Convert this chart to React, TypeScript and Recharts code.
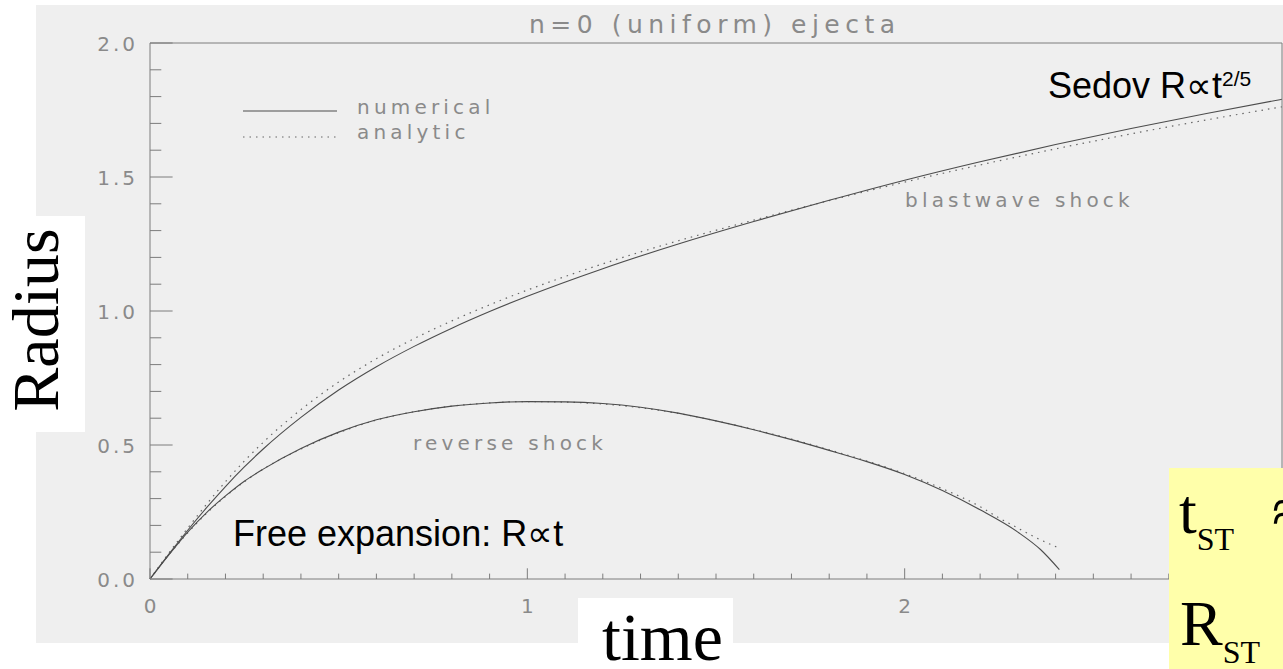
import React from "react";
import { LineChart, Line, XAxis, YAxis } from "recharts";

// Shock radius vs time for uniform (n=0) ejecta
const blastTime = [0, 0.05, 0.1, 0.15, 0.2, 0.25, 0.3, 0.4, 0.5, 0.6, 0.7, 0.8, 0.9, 1.0, 1.2, 1.4, 1.6, 1.8, 2.0, 2.2, 2.4, 2.6, 2.8, 3.0];
const blastNumerical = [0, 0.093, 0.182, 0.266, 0.345, 0.418, 0.485, 0.603, 0.705, 0.792, 0.868, 0.936, 0.998, 1.055, 1.158, 1.25, 1.334, 1.413, 1.488, 1.557, 1.621, 1.681, 1.737, 1.79];
const blastAnalytic = [0, 0.097, 0.19, 0.279, 0.363, 0.44, 0.51, 0.632, 0.735, 0.822, 0.897, 0.963, 1.023, 1.078, 1.176, 1.262, 1.339, 1.412, 1.481, 1.545, 1.605, 1.661, 1.713, 1.762];

const reverseTime = [0, 0.05, 0.1, 0.15, 0.2, 0.25, 0.3, 0.4, 0.5, 0.6, 0.7, 0.8, 0.9, 1.0, 1.1, 1.2, 1.3, 1.4, 1.5, 1.6, 1.7, 1.8, 1.9, 2.0, 2.1, 2.2, 2.3, 2.36, 2.41];
const reverseNumerical = [0, 0.09, 0.175, 0.248, 0.31, 0.365, 0.41, 0.487, 0.548, 0.594, 0.624, 0.645, 0.657, 0.662, 0.661, 0.655, 0.641, 0.619, 0.59, 0.557, 0.52, 0.48, 0.438, 0.39, 0.33, 0.258, 0.175, 0.11, 0.035];

const reverseAnalyticTime = [0, 0.05, 0.1, 0.15, 0.2, 0.25, 0.3, 0.4, 0.5, 0.6, 0.7, 0.8, 0.9, 1.0, 1.1, 1.2, 1.3, 1.4, 1.5, 1.6, 1.7, 1.8, 1.9, 2.0, 2.1, 2.2, 2.25, 2.3, 2.35, 2.41];
const reverseAnalytic = [0, 0.09, 0.172, 0.245, 0.308, 0.363, 0.41, 0.485, 0.546, 0.593, 0.624, 0.645, 0.657, 0.662, 0.66, 0.653, 0.639, 0.618, 0.59, 0.558, 0.522, 0.482, 0.44, 0.393, 0.337, 0.27, 0.228, 0.19, 0.153, 0.115];

const xMajorTicks = [0, 1, 2, 3];
// the label at t=3 sits under the note box, so only these are drawn
const xTickLabels = ["0", "1", "2"];
const yMajorTicks = [0, 0.5, 1.0, 1.5, 2.0];
const yTickLabels = ["0.0", "0.5", "1.0", "1.5", "2.0"];
// minor ticks every 0.1 on both axes
const xMinorTicks = Array.from({ length: 31 }, (_, i) => i / 10);
const yMinorTicks = Array.from({ length: 21 }, (_, i) => i / 10);

const W = 1283;
const H = 669;
const PANEL = "#efefef";
const AXIS = "#7c7c7c";
const INK = "#8a8a8a";
const CURVE = "#4c4c4c";
const IDL_FONT = "'DejaVu Sans', sans-serif";
const SERIF = "'Liberation Serif', 'Times New Roman', serif";
const SANS = "'Liberation Sans', Arial, sans-serif";

const toPoints = (ts: number[], rs: number[]) => ts.map((t, i) => ({ t, r: rs[i] }));

const majorIndex = (v: number, majors: number[]) =>
  majors.findIndex((m) => Math.abs(m - v) < 1e-6);

const labelStyle = {
  fontFamily: IDL_FONT,
  fontSize: 20,
  letterSpacing: 3,
  fill: INK,
} as const;

// ticks point into the plot box, IDL style
const BottomTick = (props: any) => {
  const { x, y, payload } = props;
  const k = majorIndex(payload.value, xMajorTicks);
  const len = k >= 0 ? 10.7 : 5.4;
  return (
    <g>
      <line x1={x} x2={x} y1={y} y2={y - len} stroke={AXIS} strokeWidth={1} />
      {k >= 0 && k < xTickLabels.length && (
        <text x={x + 1.5} y={y + 34} textAnchor="middle" style={labelStyle}>
          {xTickLabels[k]}
        </text>
      )}
    </g>
  );
};

const TopTick = (props: any) => {
  const { x, y, payload } = props;
  const len = majorIndex(payload.value, xMajorTicks) >= 0 ? 10.7 : 5.4;
  return <line x1={x} x2={x} y1={y} y2={y + len} stroke={AXIS} strokeWidth={1} />;
};

const LeftTick = (props: any) => {
  const { x, y, payload } = props;
  const k = majorIndex(payload.value, yMajorTicks);
  const len = k >= 0 ? 22.6 : 11.3;
  return (
    <g>
      <line x1={x} x2={x + len} y1={y} y2={y} stroke={AXIS} strokeWidth={1} />
      {k >= 0 && (
        <text x={x - 12} y={y + 8} textAnchor="end" style={labelStyle}>
          {yTickLabels[k]}
        </text>
      )}
    </g>
  );
};

const RightTick = (props: any) => {
  const { x, y, payload } = props;
  const len = majorIndex(payload.value, yMajorTicks) >= 0 ? 22.6 : 11.3;
  return <line x1={x} x2={x - len} y1={y} y2={y} stroke={AXIS} strokeWidth={1} />;
};

const idlText = {
  fontFamily: IDL_FONT,
  fontSize: 20,
  letterSpacing: 4.2,
  fill: INK,
} as const;

const axisCommon = {
  type: "number" as const,
  interval: 0 as const,
  tickSize: 0,
  tickMargin: 0,
  tickLine: false,
  axisLine: { stroke: AXIS },
};

const App: React.FC = () => {
  return (
    <div
      style={{
        position: "absolute",
        left: 0,
        top: 0,
        width: W,
        height: H,
        background: "#fff",
        overflow: "hidden",
      }}
    >
      <div style={{ position: "absolute", left: 36, top: 5, width: W - 36, height: 638, background: PANEL }} />

      <div style={{ position: "absolute", left: 0, top: 0 }}>
        {/* plot box: x 150..1282, y 43..579 */}
        <LineChart width={W} height={H} margin={{ top: 33, right: 0, bottom: 50, left: 110 }}>
          <XAxis
            {...axisCommon}
            xAxisId="bottom"
            dataKey="t"
            domain={[0, 3]}
            ticks={xMinorTicks}
            height={40}
            tick={<BottomTick />}
          />
          <XAxis
            {...axisCommon}
            xAxisId="top"
            orientation="top"
            dataKey="t"
            domain={[0, 3]}
            ticks={xMinorTicks}
            height={10}
            tick={<TopTick />}
          />
          <YAxis
            {...axisCommon}
            yAxisId="left"
            domain={[0, 2]}
            ticks={yMinorTicks}
            width={40}
            tick={<LeftTick />}
          />
          <YAxis
            {...axisCommon}
            yAxisId="right"
            orientation="right"
            domain={[0, 2]}
            ticks={yMinorTicks}
            width={1}
            tick={<RightTick />}
          />

          <Line
            xAxisId="bottom"
            yAxisId="left"
            data={toPoints(blastTime, blastAnalytic)}
            dataKey="r"
            type="monotone"
            stroke="#666"
            strokeWidth={1.2}
            strokeDasharray="1.5 5"
            dot={false}
            isAnimationActive={false}
          />
          <Line
            xAxisId="bottom"
            yAxisId="left"
            data={toPoints(reverseAnalyticTime, reverseAnalytic)}
            dataKey="r"
            type="monotone"
            stroke="#666"
            strokeWidth={1.2}
            strokeDasharray="1.5 5"
            dot={false}
            isAnimationActive={false}
          />
          <Line
            xAxisId="bottom"
            yAxisId="left"
            data={toPoints(blastTime, blastNumerical)}
            dataKey="r"
            type="monotone"
            stroke={CURVE}
            strokeWidth={1.1}
            dot={false}
            isAnimationActive={false}
          />
          <Line
            xAxisId="bottom"
            yAxisId="left"
            data={toPoints(reverseTime, reverseNumerical)}
            dataKey="r"
            type="monotone"
            stroke={CURVE}
            strokeWidth={1.1}
            dot={false}
            isAnimationActive={false}
          />
        </LineChart>
      </div>

      {/* plot title, legend and curve labels */}
      <svg width={W} height={H} style={{ position: "absolute", left: 0, top: 0, pointerEvents: "none" }}>
        <text x={529} y={33} style={{ ...idlText, fontSize: 25, letterSpacing: 5.5 }}>
          n=0 (uniform) ejecta
        </text>

        <line x1={243} x2={337} y1={111} y2={111} stroke={CURVE} strokeWidth={1.1} />
        <text x={357} y={114} style={idlText}>numerical</text>
        <line x1={243} x2={337} y1={137} y2={137} stroke="#666" strokeWidth={1.2} strokeDasharray="1.5 5" />
        <text x={357} y={139} style={idlText}>analytic</text>

        <text x={905} y={207} style={idlText}>blastwave shock</text>
        <text x={413} y={450} style={idlText}>reverse shock</text>

        <text x={1048} y={98} style={{ fontFamily: SANS, fontSize: 36, fill: "#000" }}>
          Sedov R∝t
          <tspan fontSize={21} dy={-12}>2/5</tspan>
        </text>
        <text x={233} y={546} style={{ fontFamily: SANS, fontSize: 36, fill: "#000" }}>
          Free expansion: R∝t
        </text>
      </svg>

      {/* axis titles on white boxes */}
      <div style={{ position: "absolute", left: 0, top: 216, width: 85, height: 216, background: "#fff" }}>
        <svg width={85} height={216}>
          <text
            transform="translate(58,104) rotate(-90)"
            textAnchor="middle"
            style={{ fontFamily: SERIF, fontSize: 66, fill: "#000" }}
          >
            Radius
          </text>
        </svg>
      </div>
      <div style={{ position: "absolute", left: 578, top: 598, width: 155, height: 71, background: "#fff" }}>
        <svg width={155} height={71}>
          <text x={24} y={62} style={{ fontFamily: SERIF, fontSize: 68, fill: "#000" }}>
            time
          </text>
        </svg>
      </div>

      <div style={{ position: "absolute", left: 1169, top: 468, width: W - 1169, height: H - 468, background: "#ffffaa" }}>
        <svg width={W - 1169} height={H - 468}>
          <g style={{ fontFamily: SERIF, fill: "#000" }}>
            <text x={10} y={65} fontSize={64}>
              t<tspan fontSize={32} dy={17}>ST</tspan>
            </text>
            <text x={103} y={65} fontSize={64}>≈</text>
            <text x={11} y={177} fontSize={64}>
              R<tspan fontSize={32} dy={18}>ST</tspan>
            </text>
          </g>
        </svg>
      </div>
    </div>
  );
};

export default App;
